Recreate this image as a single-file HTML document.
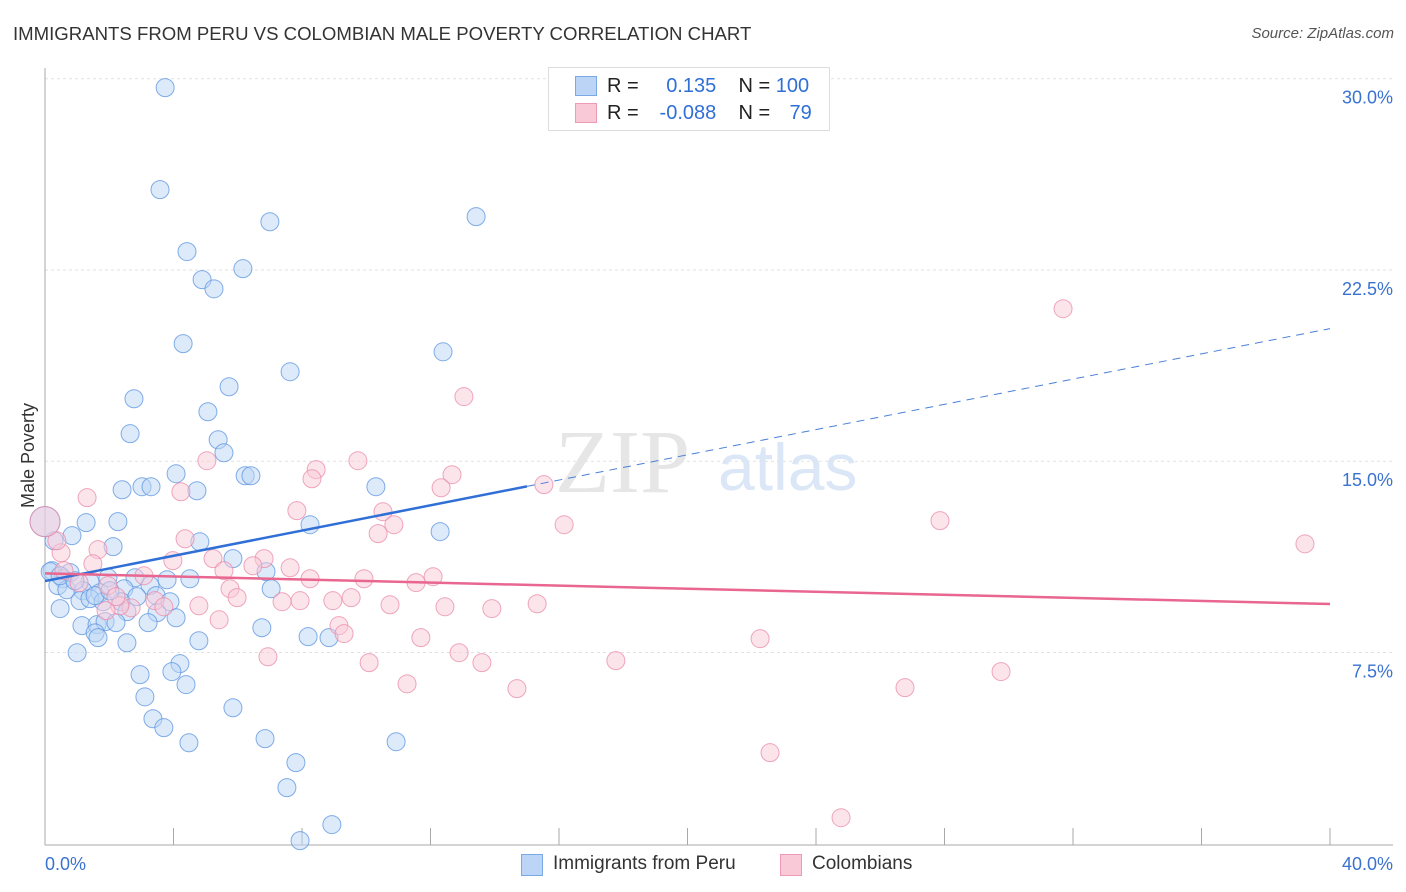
<!DOCTYPE html>
<html><head><meta charset="utf-8"><style>
body{margin:0;background:#fff;font-family:"Liberation Sans",sans-serif;}
#wrap{position:relative;width:1406px;height:892px;overflow:hidden;}
.t{position:absolute;white-space:nowrap;}
</style></head><body>
<div id="wrap">
<div class="t" style="left:13px;top:23px;font-size:18.6px;color:#333;">IMMIGRANTS FROM PERU VS COLOMBIAN MALE POVERTY CORRELATION CHART</div>
<div class="t" style="right:12px;top:25px;font-size:15px;color:#555;font-style:italic;">Source: ZipAtlas.com</div>
<div class="t" style="left:-24px;top:445px;font-size:18px;color:#333;transform:rotate(-90deg);">Male Poverty</div>
<svg id="plot" width="1406" height="892" style="position:absolute;left:0;top:0;"></svg>
<div style="position:absolute;left:548px;top:67px;width:280px;height:62px;border:1px solid #ddd;background:#fff;">
 <div style="position:absolute;left:26px;top:8px;width:20px;height:18px;background:#bcd5f6;border:1px solid #7aa9e6;"></div>
 <div class="t" style="left:58px;top:7px;font-size:20px;color:#222;">R = <span style="color:#2f6fd6;display:inline-block;width:72px;text-align:right;">0.135</span>&nbsp;&nbsp;&nbsp; N = <span style="color:#2f6fd6;">100</span></div>
 <div style="position:absolute;left:26px;top:35px;width:20px;height:18px;background:#f9c9d8;border:1px solid #ee9ab4;"></div>
 <div class="t" style="left:58px;top:34px;font-size:20px;color:#222;">R = <span style="color:#2f6fd6;display:inline-block;width:72px;text-align:right;">-0.088</span>&nbsp;&nbsp;&nbsp; N = <span style="color:#2f6fd6;display:inline-block;width:36px;text-align:right;">79</span></div>
</div>
<div style="position:absolute;left:521px;top:854px;width:20px;height:20px;background:#bcd5f6;border:1px solid #7aa9e6;"></div>
<div class="t" style="left:553px;top:853px;font-size:19px;color:#333;">Immigrants from Peru</div>
<div style="position:absolute;left:780px;top:854px;width:20px;height:20px;background:#f9c9d8;border:1px solid #ee9ab4;"></div>
<div class="t" style="left:812px;top:853px;font-size:19px;color:#333;">Colombians</div>
</div>
<script>
const yTicks=[30,22.5,15,7.5];
const yTickLabels=["30.0%","22.5%","15.0%","7.5%"];
const xEnds=[0,40];
const xEndLabels=["0.0%","40.0%"];
const blueX=[3.74,3.58,4.42,7.00,13.42,4.89,5.26,6.16,4.30,7.63,12.39,5.73,2.77,5.07,2.65,5.39,5.57,4.08,6.23,6.41,2.40,3.02,3.30,4.73,10.30,2.27,1.28,8.25,12.30,4.82,2.12,0.84,0.28,5.85,6.88,0.22,0.78,1.40,1.96,2.80,3.80,4.51,0.56,0.40,0.68,1.18,1.71,2.46,3.27,3.46,7.04,1.09,1.40,1.81,2.37,2.86,3.89,0.47,2.55,3.49,4.08,1.15,1.62,1.87,2.21,3.21,6.75,1.56,1.65,2.55,4.79,8.19,8.84,1.00,4.20,3.95,2.96,4.39,3.11,5.85,3.36,3.70,6.85,10.93,4.48,7.81,7.53,8.93,7.94,0.16,0.47,0.93,1.56,2.02,0.0];
const blueY=[29.65,25.65,23.22,24.39,24.59,22.12,21.76,22.55,19.61,18.51,19.29,17.92,17.45,16.94,16.08,15.84,15.33,14.51,14.43,14.43,13.88,14.0,14.0,13.84,14.0,12.63,12.59,12.51,12.24,11.84,11.65,12.08,11.88,11.18,10.67,10.71,10.63,10.27,10.43,10.43,10.35,10.39,10.39,10.12,9.96,9.92,9.84,10.0,10.12,9.73,10.0,9.53,9.61,9.49,9.49,9.69,9.49,9.22,9.10,9.06,8.86,8.55,8.59,8.71,8.67,8.67,8.47,8.27,8.08,7.88,7.96,8.12,8.08,7.49,7.06,6.75,6.63,6.24,5.76,5.33,4.90,4.55,4.12,4.0,3.96,3.18,2.20,0.75,0.12,10.67,10.51,10.31,9.73,9.92,12.63];
const pinkX=[31.69,13.04,5.04,9.74,12.67,8.44,8.31,4.23,12.33,15.53,1.31,7.84,10.52,10.86,10.37,16.16,27.86,39.22,4.36,5.23,3.98,1.65,1.49,6.82,6.47,7.63,5.57,8.25,9.93,12.08,11.55,3.08,1.06,1.96,0.50,0.37,0.59,5.76,5.98,7.94,8.96,9.53,7.38,4.79,3.42,2.68,3.70,2.33,1.90,10.74,12.45,13.91,15.32,5.42,9.15,9.31,11.70,12.89,10.09,13.60,17.77,22.26,6.94,11.27,14.69,26.77,29.76,22.57,24.78,2.21,0.0];
const pinkY=[20.98,17.53,15.02,15.02,14.47,14.67,14.31,13.80,13.96,14.08,13.57,13.06,13.02,12.51,12.16,12.51,12.67,11.76,11.96,11.18,11.10,11.53,10.98,11.18,10.90,10.82,10.71,10.39,10.39,10.47,10.24,10.51,10.24,10.12,11.41,11.88,10.71,10.0,9.65,9.53,9.53,9.65,9.49,9.33,9.53,9.25,9.29,9.33,9.14,9.37,9.29,9.22,9.41,8.78,8.55,8.24,8.08,7.49,7.10,7.10,7.18,8.04,7.33,6.27,6.08,6.12,6.75,3.57,1.02,9.69,12.63];
const blueTrend=[10.3,20.2];
const blueSolidEnd=15.0;
const pinkTrend=[10.6,9.4];
const NS="http://www.w3.org/2000/svg";
const svg=document.getElementById('plot');
const X0=45,X1=1330,YTOP=78.7,YPER=25.5;
const xs=v=>X0+(v-xEnds[0])/(xEnds[1]-xEnds[0])*(X1-X0);
const ys=v=>YTOP+(30-v)*YPER;
function mk(tag,attrs){const e=document.createElementNS(NS,tag);for(const k in attrs)e.setAttribute(k,attrs[k]);svg.appendChild(e);return e;}
let w=mk('text',{x:555,y:492,'font-size':90,'font-family':'Liberation Serif, serif',fill:'#e6e6e6'});w.textContent='ZIP';


let w2=mk('text',{x:718,y:490,'font-size':66,'font-family':'Liberation Sans, sans-serif',fill:'#dbe7f7'});w2.textContent='atlas';


yTicks.forEach((t,i)=>{
 const g=mk('line',{x1:X0,x2:1393,y1:ys(t),y2:ys(t),stroke:'#e2e2e2','stroke-dasharray':'3,3'});
 
 
 const l=mk('text',{x:1393,y:ys(t)+25,'text-anchor':'end','font-size':18,fill:'#3a72d0','font-family':'Liberation Sans, sans-serif'});
 l.textContent=yTickLabels[i];
 
 
});
let ax=mk('line',{x1:X0,x2:X0,y1:68,y2:845,stroke:'#aaa'});


let bx=mk('line',{x1:X0,x2:1393,y1:845,y2:845,stroke:'#aaa'});


for(let v=0;v<=40;v+=4){
 const tk=mk('line',{x1:xs(v),x2:xs(v),y1:828,y2:845,stroke:'#aaa'});
 
 
}
xEnds.forEach((v,i)=>{
 const l=mk('text',{x:i?xs(v)+63:xs(v),y:870,'text-anchor':i?'end':'start','font-size':18,fill:'#3a72d0','font-family':'Liberation Sans, sans-serif'});
 l.textContent=xEndLabels[i];
 
 
});
function pts(X,Y,fill,stroke,name){
 X.forEach((x,i)=>{
  const big=(i===X.length-1);
  const c=mk('circle',{cx:xs(x),cy:ys(Y[i]),r:big?15:9,fill:fill,'fill-opacity':0.5,stroke:stroke,'stroke-opacity':0.75,'stroke-width':1});
  
  
 });
}
pts(blueX,blueY,'#bcd5f6','#5a93e0','peru-point');
pts(pinkX,pinkY,'#f9c9d8','#ea8aa9','colombian-point');
const bAt=v=>blueTrend[0]+(blueTrend[1]-blueTrend[0])*(v-xEnds[0])/(xEnds[1]-xEnds[0]);
let b1=mk('line',{x1:xs(xEnds[0]),y1:ys(blueTrend[0]),x2:xs(blueSolidEnd),y2:ys(bAt(blueSolidEnd)),stroke:'#2f6fd6','stroke-width':2.5});


let b2=mk('line',{x1:xs(blueSolidEnd),y1:ys(bAt(blueSolidEnd)),x2:xs(xEnds[1]),y2:ys(blueTrend[1]),stroke:'#4a80d8','stroke-width':1,'stroke-dasharray':'8,6'});


let p1=mk('line',{x1:xs(xEnds[0]),y1:ys(pinkTrend[0]),x2:xs(xEnds[1]),y2:ys(pinkTrend[1]),stroke:'#e8668f','stroke-width':2.5});


</script>
</body></html>
